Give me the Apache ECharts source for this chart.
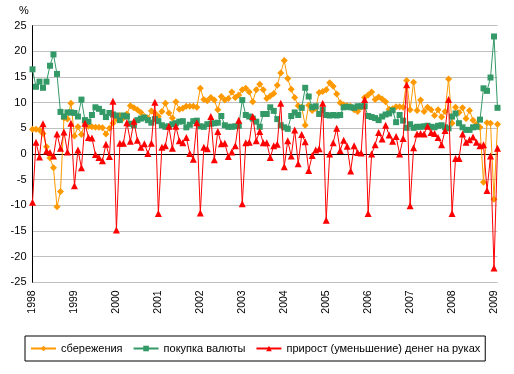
<!DOCTYPE html>
<html><head><meta charset="utf-8">
<script src="https://cdn.jsdelivr.net/npm/echarts@6/dist/echarts.min.js"></script>
<style>html,body{margin:0;padding:0;background:#fff}#c{width:514px;height:374px}</style>
</head><body><div id="c"></div>
<script>
// Tick labels on the category axis (one per January)
const years = ['1998','1999','2000','2001','2002','2003','2004','2005','2006','2007','2008','2009'];
const monthsInLastYear = 2; // data ends February 2009
const categories = [];
years.forEach((y, k) => {
  const n = k === years.length - 1 ? monthsInLastYear : 12;
  for (let m = 1; m <= n; m++) categories.push(y + '-' + (m < 10 ? '0' + m : m));
});

const seriesNames = ['сбережения', 'покупка валюты', 'прирост (уменьшение) денег на руках'];

// сбережения, %
const savings = [
  4.8, 4.8, 4.7, 4.0, 1.4, -0.8, -2.7, -10.3, -7.3, 7.0, 6.8, 9.9,
  3.5, 5.3, 3.8, 6.1, 5.4, 5.3, 5.2, 5.2, 5.1, 3.9, 5.0, 6.0,
  6.8, 7.5, 7.0, 7.8, 9.4, 9.0, 8.6, 8.1, 7.3, 7.0, 8.4, 8.0,
  7.3, 8.3, 9.9, 8.0, 7.0, 10.2, 8.7, 8.9, 9.3, 9.3, 9.3, 9.1,
  12.8, 10.6, 10.4, 11.0, 10.5, 8.6, 11.2, 10.5, 10.8, 12.1, 11.0, 11.5,
  12.5, 12.8, 12.1, 10.2, 12.5, 13.6, 12.5, 10.8, 11.3, 11.8, 13.4, 15.8,
  18.2, 14.7, 12.6, 11.0, 9.4, 9.1, 5.6, 9.5, 8.5, 8.9, 12.0, 12.2,
  12.5, 13.9, 13.2, 11.7, 10.0, 9.6, 9.4, 9.3, 8.6, 8.3, 9.1, 11.0,
  11.5, 12.1, 10.6, 11.1, 10.7, 10.2, 8.7, 8.8, 9.2, 9.2, 9.1, 14.3,
  8.6, 14.0, 8.5, 10.5, 8.3, 9.1, 8.6, 7.5, 8.6, 7.2, 8.3, 14.6,
  6.0, 9.1, 8.1, 9.0, 6.9, 8.5, 6.6, 5.8, 5.2, -5.5, 6.1, 6.0,
  -8.8, 5.8
];

// покупка валюты, %
const currency = [
  16.5, 13.1, 14.1, 12.9, 14.1, 17.2, 19.4, 15.6, 8.2, 7.3, 8.1, 8.1,
  8.0, 7.3, 10.6, 6.6, 6.3, 7.6, 9.1, 8.8, 8.2, 7.2, 8.0, 7.7,
  7.5, 6.6, 7.5, 7.3, 5.9, 5.6, 6.6, 6.9, 7.1, 6.6, 6.1, 6.8,
  6.4, 5.6, 5.3, 5.4, 5.8, 6.0, 6.3, 6.4, 5.2, 5.7, 6.4, 6.5,
  5.4, 5.3, 5.8, 5.9, 6.0, 6.1, 7.4, 5.6, 5.3, 5.3, 5.4, 5.5,
  10.5, 7.6, 7.3, 6.9, 6.3, 5.3, 7.8, 7.8, 9.1, 8.4, 6.8, 5.6,
  5.2, 4.9, 7.4, 8.1, 7.6, 9.0, 12.9, 11.2, 9.1, 9.3, 7.8, 8.6,
  7.6, 7.5, 7.6, 7.5, 7.6, 9.1, 9.2, 9.1, 9.0, 9.3, 9.3, 9.3,
  7.4, 7.2, 7.0, 6.6, 7.3, 7.7, 7.9, 8.5, 6.2, 7.6, 6.5, 5.1,
  5.8, 5.1, 5.3, 5.3, 5.4, 5.5, 5.3, 5.2, 5.5, 5.6, 5.2, 5.0,
  7.3, 7.9, 6.0, 5.2, 4.7, 4.7, 5.2, 5.3, 6.7, 12.8, 12.3, 14.9,
  22.9, 9.0
];

// прирост (уменьшение) денег на руках, %
const cash = [
  -9.4, 2.3, -0.6, 5.9, 0.6, 0.3, -0.4, 3.9, 1.1, 4.3, 0.4, 6.0,
  -6.2, 0.8, -2.7, 6.0, 3.2, 3.1, -0.1, -0.7, -1.3, 1.9, -0.5, 10.3,
  -14.8, 2.1, 2.1, 6.1, 2.5, 6.4, 2.7, 1.3, 2.0, 0.1, 2.1, 10.1,
  -11.6, 1.3, 1.6, 5.4, 1.1, 5.4, 2.6, 2.2, 3.2, 0.1, -1.0, 6.1,
  -11.5, 1.3, 1.0, 7.3, -1.1, 4.4, 2.0, 2.1, -0.5, 0.4, 1.6, 6.6,
  -9.7, 2.2, 2.3, 7.3, 2.6, 4.4, 2.2, 2.2, -0.7, 1.6, 1.9, 9.9,
  -2.5, 2.6, -0.4, 4.7, -1.9, 3.8, 2.4, -3.2, -0.3, 0.8, 1.0, 9.9,
  -12.9, 0.0, 2.2, 5.0, 0.7, 2.7, 1.5, -3.3, 1.6, 0.3, 0.2, 10.6,
  -11.6, 0.0, 1.8, 4.2, 2.9, 5.6, 3.7, 2.5, 3.4, 0.0, 3.0, 13.5,
  -10.1, 1.2, 3.9, 4.0, 3.9, 5.4, 4.2, 4.0, 3.2, 1.8, 4.6, 10.6,
  -11.6, -0.9, -0.9, 3.9, 2.3, 2.8, 3.3, 2.3, 1.6, 1.8, -7.1, -0.4,
  -22.2, 1.1
];

const yMin = -25, yMax = 25, yStep = 5;
const colors = ['#FF9900', '#339966', '#FF0000'];
const symbols = ['diamond', 'rect', 'triangle'];
const symbolSizes = [7, 6, 7];
const font = 'Liberation Sans, Arial, sans-serif';

const chart = echarts.init(document.getElementById('c'), null, {renderer: 'canvas'});
const data = [savings, currency, cash];

chart.setOption({
  animation: false,
  backgroundColor: '#fff',
  textStyle: {fontFamily: font},
  grid: {left: 32.5, right: 16.5, top: 25.7, bottom: 91.7, containLabel: false},
  xAxis: {
    type: 'category',
    data: categories,
    boundaryGap: false,
    axisLine: {show: false, onZero: false},
    axisTick: {show: false},
    splitLine: {show: false},
    axisLabel: {
      interval: (i) => i % 12 === 0,
      formatter: (v) => v.slice(0, 4),
      rotate: 90,
      margin: 8,
      fontSize: 10.5,
      color: '#000',
      fontFamily: font
    }
  },
  yAxis: {
    type: 'value',
    min: yMin, max: yMax, interval: yStep,
    axisLine: {show: true, lineStyle: {color: '#000', width: 1}},
    axisTick: {show: false},
    axisLabel: {fontSize: 11, color: '#000', margin: 6, fontFamily: font},
    splitLine: {show: true, lineStyle: {color: '#C0C0C0', width: 1}}
  },
  graphic: [{
    type: 'text', left: 19, top: 5,
    style: {text: '%', fontSize: 11, fill: '#000', fontFamily: font}
  }],
  legend: {
    left: 25, top: 336,
    itemWidth: 25, itemHeight: 7, itemGap: 10,
    borderColor: '#000', borderWidth: 1,
    padding: [7, 5, 7, 5],
    textStyle: {fontSize: 11, color: '#000', fontFamily: font},
    data: seriesNames
  },
  series: seriesNames.map((name, k) => ({
    name: name,
    type: 'line',
    data: data[k],
    symbol: symbols[k],
    symbolSize: symbolSizes[k],
    showAllSymbol: true,
    color: colors[k],
    lineStyle: {width: 1, color: colors[k]},
    itemStyle: {color: colors[k]},
    z: 2 + k,
    markLine: k === 0 ? {
      silent: true, symbol: 'none', label: {show: false},
      lineStyle: {color: '#000', width: 1, type: 'solid'},
      data: [{yAxis: 0}], z: 1
    } : undefined
  }))
});
</script>
</body></html>
